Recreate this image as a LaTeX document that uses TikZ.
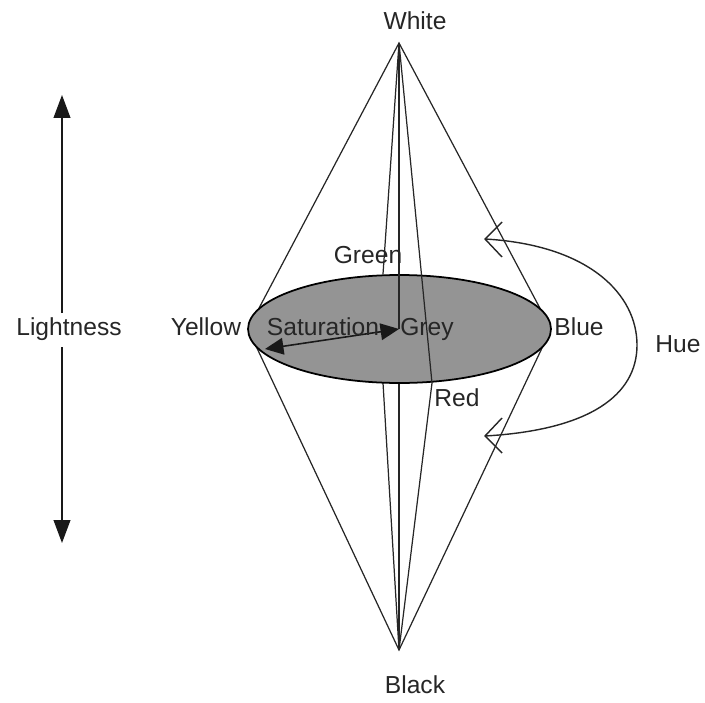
\documentclass[tikz,border=0pt]{standalone}
\usepackage{xcolor}
\usepackage{fontspec}
\setmainfont{Liberation Sans}
\usetikzlibrary{arrows.meta,shapes.geometric}
\definecolor{discgrey}{gray}{0.58}
\tikzset{
    lbl/.style={font=\fontsize{14}{16}\selectfont, text=black!85, inner sep=0pt, anchor=base},
    edge/.style={draw=black!85, line width=0.7pt},
    solidline/.style={draw=black!90, line width=0.9pt},
    bigtip/.style={-{Triangle[length=13pt,width=9.5pt]}},
    bothtip/.style={{Triangle[length=10.5pt,width=9.5pt]}-{Triangle[length=10.5pt,width=9.5pt]}},
    hueback/.style={draw=black!85, line width=0.8pt}
}
\begin{document}
\begin{tikzpicture}[x=0.02cm, y=-0.02cm]
    \useasboundingbox (0,0) rectangle (705,702);

    % apexes and rim points
    \coordinate (white) at (399,43);
    \coordinate (black) at (399,650);
    \coordinate (yellowpt) at (248,329);
    \coordinate (bluept) at (551,329);
    \coordinate (greentop) at (383,274);
    \coordinate (greenbot) at (383,383);
    \coordinate (redpt) at (432,383);
    \coordinate (greypt) at (399,329);
    \coordinate (satpt) at (265,349);

    % the double cone
    \draw[edge] (white) -- (yellowpt) -- (black) -- (bluept) -- cycle;
    \draw[edge] (white) -- (greentop);
    \draw[edge] (greenbot) -- (black);
    \draw[edge] (redpt) -- (black);
    \draw[edge] (greypt) -- (black);

    % hue disc
    \node[ellipse, draw=black, fill=discgrey, line width=1pt, minimum width=6.06cm, minimum height=2.16cm, inner sep=0pt] (disc) at (399.5,329) {};
    \draw[edge] (white) -- (greypt);
    \draw[edge] (white) -- (redpt);

    % lightness
    \node[lbl] (lightness) at (69,335) {Lightness};
    \coordinate (ltop) at (62,95);
    \coordinate (lbot) at (62,543);
    \coordinate (lmidtop) at (62,313);
    \coordinate (lmidbot) at (62,347);
    \draw[solidline, bigtip] (lmidtop) -- (ltop);
    \draw[solidline, bigtip] (lmidbot) -- (lbot);

    % saturation
    \draw[solidline, bothtip] (satpt) -- (greypt);

    % hue arrow
    \coordinate (huetop) at (485,239);
    \coordinate (huebot) at (485,436);
    \draw[hueback] (huetop) .. controls (590,245) and (637,295) .. (637,345)
        .. controls (637,395) and (590,430) .. (huebot);
    \draw[hueback] (502,222) -- (huetop) -- (502,257);
    \draw[hueback] (502,418) -- (huebot) -- (502,453);

    % labels
    \node[lbl] (whitelab) at (415,30) {White};
    \node[lbl] (blacklab) at (415,693) {Black};
    \node[lbl] (green) at (368,263) {Green};
    \node[lbl] (red) at (457,406) {Red};
    \node[lbl] (yellow) at (206,335) {Yellow};
    \node[lbl] (blue) at (579,335) {Blue};
    \node[lbl] (grey) at (427,335) {Grey};
    \node[lbl] (saturation) at (323,335) {Saturation};
    \node[lbl] (hue) at (678,352) {Hue};
\end{tikzpicture}
\end{document}
